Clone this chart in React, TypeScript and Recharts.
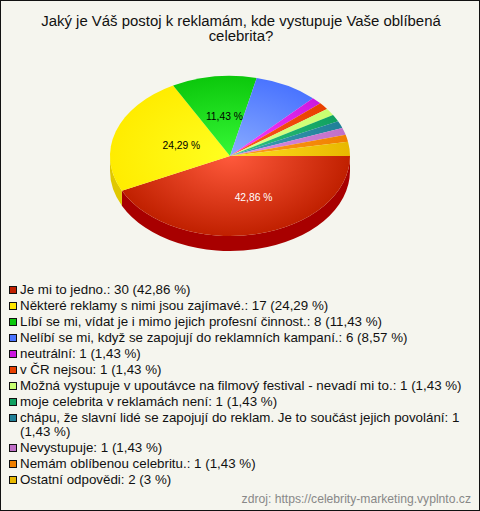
import { PieChart, Pie, Legend, Cell } from 'recharts';

// answers, in the order they go round the pie
const answers = [
  'Je mi to jedno.',
  'Některé reklamy s nimi jsou zajímavé.',
  'Líbí se mi, vídat je i mimo jejich profesní činnost.',
  'Nelíbí se mi, když se zapojují do reklamních kampaní.',
  'neutrální',
  'v ČR nejsou',
  'Možná vystupuje v upoutávce na filmový festival - nevadí mi to.',
  'moje celebrita v reklamách není',
  'chápu, že slavní lidé se zapojují do reklam. Je to součást jejich povolání',
  'Nevystupuje',
  'Nemám oblíbenou celebritu.',
  'Ostatní odpovědi',
];
const counts = [30, 17, 8, 6, 1, 1, 1, 1, 1, 1, 1, 2];
const shares = ['42,86', '24,29', '11,43', '8,57', '1,43', '1,43', '1,43', '1,43', '1,43', '1,43', '1,43', '3'];
const sliceLabels = ['42,86 %', '24,29 %', '11,43 %', '', '', '', '', '', '', '', '', ''];

const swatches = ['#c02000', '#ffe600', '#0cc80c', '#4a74ff', '#cc18e0', '#e84000', '#c8ff70', '#10a060', '#208098', '#c070c8', '#f08000', '#e8b800'];
const edges = ['#c02000', '#ffec00', '#0cc80c', '#4a74ff', '#cc18e0', '#e84000', '#c8ff70', '#10a060', '#208098', '#c070c8', '#f08000', '#e8b800'];
const centers = ['#ff5a3c', '#ffff20', '#36f836', '#8aacff', '#ff40ff', '#ff5a20', '#e0ff90', '#30c880', '#40a0b8', '#e090e8', '#ffa020', '#ffe020'];
const walls = ['#a80000', '#e0c800', '#08a008', '#3050d0', '#a010b0', '#c03000', '#a0d050', '#088048', '#186078', '#9858a0', '#c06000', '#c09000'];

const data = answers.map((name, i) => ({ name, value: counts[i], idx: i }));

const CX = 230;
const CY = 156;
const RX = 120;
const RY = 80;
const DEPTH = 15;
const RAD = Math.PI / 180;

// the three slice labels sit a little off the plain mid radius
const labelNudge = [[11, 5], [5, 1], [2, -2]];

const ex = (deg: number) => CX + RX * Math.cos(deg * RAD);
const ey = (deg: number) => CY - RY * Math.sin(deg * RAD);

function TopSlice(props: any) {
  const { startAngle, endAngle, idx } = props;
  const large = Math.abs(endAngle - startAngle) > 180 ? 1 : 0;
  const d = `M${CX},${CY} L${ex(startAngle)},${ey(startAngle)} A${RX},${RY} 0 ${large} 1 ${ex(endAngle)},${ey(endAngle)} Z`;
  return <path d={d} fill={`url(#slice${idx})`} stroke="none" />;
}

// side wall, only the part of a slice on the front half of the pie shows
function WallSlice(props: any) {
  const { startAngle, endAngle, idx } = props;
  const a = Math.max(endAngle, -180);
  const b = Math.min(startAngle, 0);
  if (a >= b) return <g />;
  const d = `M${ex(b)},${ey(b)} A${RX},${RY} 0 0 1 ${ex(a)},${ey(a)} L${ex(a)},${ey(a) + DEPTH} A${RX},${RY} 0 0 0 ${ex(b)},${ey(b) + DEPTH} Z`;
  return <path d={d} fill={walls[idx]} stroke="none" />;
}

function SliceLabel(props: any) {
  const { midAngle, index } = props;
  const text = sliceLabels[index];
  if (!text) return <g />;
  const x = CX + RX * 0.47 * Math.cos(midAngle * RAD) + labelNudge[index][0];
  const y = CY - RY * 0.47 * Math.sin(midAngle * RAD) + labelNudge[index][1];
  return (
    <text x={x} y={y} textAnchor="middle" dominantBaseline="central" fontSize={10.3} fontFamily="Liberation Sans" fill={index === 0 ? '#fff' : '#000'}>
      {text}
    </text>
  );
}

function LegendRows() {
  return (
    <div style={{ fontFamily: 'Liberation Sans', fontSize: 13.33, lineHeight: '14px', color: '#111', width: 462 }}>
      {answers.map((a, i) => (
        <div key={a} style={{ position: 'relative', paddingLeft: 12, marginBottom: 2 }}>
          <span style={{ position: 'absolute', left: 1, top: 3, width: 6, height: 6, background: swatches[i], border: '1px solid #111' }} />
          {a}: {counts[i]} ({shares[i]} %)
        </div>
      ))}
    </div>
  );
}

export default function App() {
  return (
    <div style={{ position: 'absolute', left: 0, top: 0, width: 480, height: 511, boxSizing: 'border-box', background: '#f5f5ee', border: '1px solid #111', overflow: 'hidden' }}>
      <div style={{ position: 'absolute', left: 20, top: 12, width: 440, textAlign: 'center', fontFamily: 'Liberation Sans', fontSize: 14.93, lineHeight: '15px', color: '#111' }}>
        Jaký je Váš postoj k reklamám, kde vystupuje Vaše oblíbená<br />celebrita?
      </div>
      <div style={{ position: 'absolute', left: -1, top: -1 }}>
        <PieChart width={480} height={511}>
          <defs>
            {centers.map((c, i) => (
              <radialGradient key={i} id={`slice${i}`} gradientUnits="userSpaceOnUse" cx={0} cy={0} r={1} gradientTransform={`translate(${CX} ${CY}) scale(${RX} ${RY})`}>
                <stop offset="0%" stopColor={c} />
                <stop offset="100%" stopColor={edges[i]} />
              </radialGradient>
            ))}
          </defs>
          <Pie data={data} dataKey="value" nameKey="name" cx={CX} cy={CY} outerRadius={RX} startAngle={0} endAngle={-360} stroke="none" shape={WallSlice} isAnimationActive={false} legendType="none">
            {data.map((d) => <Cell key={d.name} fill={walls[d.idx]} />)}
          </Pie>
          <Pie data={data} dataKey="value" nameKey="name" cx={CX} cy={CY} outerRadius={RX} startAngle={0} endAngle={-360} stroke="none" shape={TopSlice} label={SliceLabel} labelLine={false} isAnimationActive={false}>
            {data.map((d) => <Cell key={d.name} fill={swatches[d.idx]} />)}
          </Pie>
          <Legend content={LegendRows} wrapperStyle={{ position: 'absolute', left: 8, top: 283, width: 464 }} />
        </PieChart>
      </div>
      <div style={{ position: 'absolute', right: 8, top: 491, fontFamily: 'Liberation Sans', fontSize: 12.15, color: '#888' }}>
        zdroj: https://celebrity-marketing.vyplnto.cz
      </div>
    </div>
  );
}
